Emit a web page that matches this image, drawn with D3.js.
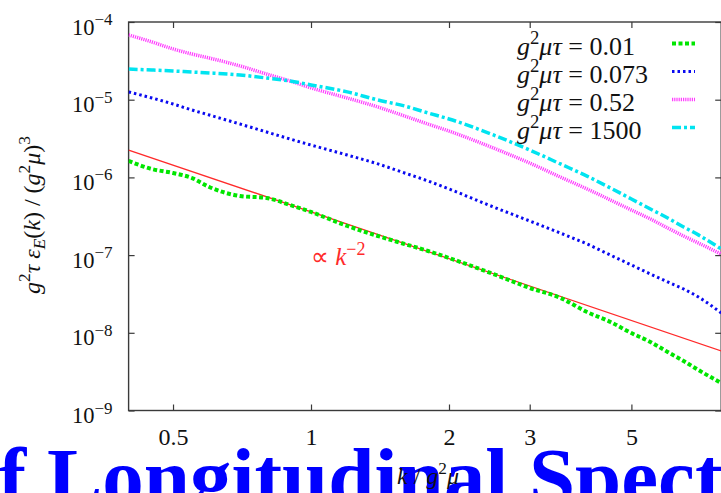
<!DOCTYPE html>
<html>
<head>
<meta charset="utf-8">
<script src="https://cdn.jsdelivr.net/npm/d3@7"></script>
<style>
  body { margin: 0; background: #fff; }
  svg { display: block; }
</style>
</head>
<body>
<div id="viz"></div>
<script>
const width = 721;
const height = 493;
const plot = {left: 128.6, right: 721.2, top: 22, bottom: 410.5};
const serif = 'Liberation Serif';

// k / g^2 mu sample positions
const kValues = [0.4, 0.45, 0.5, 0.55, 0.6, 0.7, 0.8, 0.9, 1.0, 1.2, 1.4, 1.6, 1.8,
  2.0, 2.5, 3.0, 3.5, 4.0, 4.5, 5.0, 5.5, 6.0, 6.5, 7.0, 7.85];

// g^2 tau eps_E(k) / (g^2 mu)^3 for each g^2 mu tau
const spec001 = [1.63e-6, 1.28e-6, 1.14e-6, 9.82e-7, 7.52e-7, 5.77e-7, 5.43e-7, 4.42e-7, 3.59e-7,
  2.37e-7, 1.76e-7, 1.39e-7, 1.13e-7, 9.18e-8, 5.71e-8, 3.78e-8, 2.81e-8, 1.85e-8, 1.38e-8,
  9.93e-9, 7.62e-9, 5.66e-9, 4.34e-9, 3.32e-9, 2.26e-9];
const spec0073 = [1.26e-5, 1.05e-5, 8.81e-6, 7.36e-6, 6.35e-6, 4.86e-6, 3.84e-6, 3.12e-6, 2.61e-6,
  1.94e-6, 1.49e-6, 1.14e-6, 8.99e-7, 7.10e-7, 4.16e-7, 2.75e-7, 1.92e-7, 1.39e-7, 1.00e-7,
  7.46e-8, 5.71e-8, 4.51e-8, 3.66e-8, 2.89e-8, 1.80e-8];
const spec052 = [6.81e-5, 5.53e-5, 4.50e-5, 3.87e-5, 3.44e-5, 2.72e-5, 2.14e-5, 1.74e-5, 1.42e-5,
  1.05e-5, 8.05e-6, 6.17e-6, 4.86e-6, 3.95e-6, 2.39e-6, 1.53e-6, 1.01e-6, 7.10e-7, 5.12e-7,
  3.80e-7, 2.92e-7, 2.23e-7, 1.76e-7, 1.43e-7, 1.03e-7];
const spec1500 = [2.48e-5, 2.41e-5, 2.34e-5, 2.27e-5, 2.21e-5, 2.08e-5, 1.90e-5, 1.74e-5, 1.55e-5,
  1.26e-5, 9.91e-6, 8.30e-6, 6.75e-6, 5.65e-6, 3.52e-6, 2.25e-6, 1.49e-6, 1.04e-6, 7.31e-7,
  5.27e-7, 3.92e-7, 3.00e-7, 2.30e-7, 1.82e-7, 1.20e-7];

// k^-2 guide line, two end points
const fitK = [0.4, 7.85];
const fitSpec = [2.25e-6, 5.84e-9];

const seriesLabels = ['0.01', '0.073', '0.52', '1500'];
const xTicks = [0.5, 1, 2, 3, 5];
const yTicks = [1e-9, 1e-8, 1e-7, 1e-6, 1e-5, 1e-4];

const styles = [
  {color: '#00e600', widthPx: 4, dash: '4,2.5'},
  {color: '#0a0af0', widthPx: 3, dash: '2.5,3'},
  {color: '#ff3cff', widthPx: 3.5, dash: '1.2,1'},
  {color: '#00e4f0', widthPx: 3.5, dash: '9,3,3,3'}
];
const allSeries = [spec001, spec0073, spec052, spec1500];

const chart = d3.select('#viz')
  .append('svg')
  .attr('width', width)
  .attr('height', height)
  .attr('viewBox', [0, 0, width, height])
  .attr('font-family', serif);

chart.append('rect').attr('width', width).attr('height', height).attr('fill', '#fff');

const xScale = d3.scaleLog().domain([0.4, 7.85]).range([plot.left, plot.right]);
const yScale = d3.scaleLog().domain([1e-9, 1e-4]).range([plot.bottom, plot.top]);

// writes text with italic / super / subscript pieces
const richText = (sel, parts, size) => {
  let shift = 0;
  sel.attr('font-family', serif);
  parts.forEach(p => {
    const fs = p.s ? size * 0.72 : size;
    const target = p.s === 'sup' ? -0.42 * size : p.s === 'sub' ? 0.22 * size : 0;
    sel.append('tspan')
      .attr('dy', target - shift)
      .attr('font-size', fs)
      .attr('font-family', serif)
      .attr('font-style', p.i ? 'italic' : 'normal')
      .text(p.t);
    shift = target;
  });
};

chart.append('clipPath').attr('id', 'clip')
  .append('rect')
  .attr('x', plot.left).attr('y', plot.top)
  .attr('width', plot.right - plot.left).attr('height', plot.bottom - plot.top);

// axes, ticks pointing inward on all four sides
const axisColor = '#3a3a3a';
const styleAxis = g => {
  g.select('.domain').remove();
  g.selectAll('.tick line').attr('stroke', axisColor).attr('stroke-width', 1.2);
  g.attr('font-family', serif).attr('font-size', null);
};

const yAxis = chart.append('g')
  .attr('transform', `translate(${plot.left},0)`)
  .call(d3.axisLeft(yScale).tickValues(yTicks).tickSize(-6).tickPadding(16))
  .call(styleAxis);
yAxis.selectAll('.tick text').each(function(d) {
  const t = d3.select(this).text(null).attr('dy', null).attr('y', 12).attr('fill', '#111');
  const expo = String(Math.round(Math.log10(d))).replace('-', '\u2212');
  richText(t, [{t: '10'}, {t: expo, s: 'sup'}], 22.5);
  t.selectAll('tspan').filter((_, i) => i === 1).attr('font-size', 17);
});

const xAxis = chart.append('g')
  .attr('transform', `translate(0,${plot.bottom})`)
  .call(d3.axisBottom(xScale).tickValues(xTicks).tickSize(-6).tickFormat(d3.format('')))
  .call(styleAxis);
xAxis.selectAll('.tick text')
  .attr('y', 34.5).attr('dy', null)
  .attr('font-family', serif)
  .attr('font-size', 24).attr('fill', '#111');

chart.append('g')
  .attr('transform', `translate(0,${plot.top})`)
  .call(d3.axisTop(xScale).tickValues(xTicks).tickSize(-6).tickFormat(''))
  .call(styleAxis);
chart.append('g')
  .attr('transform', `translate(${plot.right},0)`)
  .call(d3.axisRight(yScale).tickValues(yTicks).tickSize(-6).tickFormat(''))
  .call(styleAxis);

chart.append('rect')
  .attr('x', plot.left).attr('y', plot.top)
  .attr('width', plot.right - plot.left).attr('height', plot.bottom - plot.top)
  .attr('fill', 'none').attr('stroke', axisColor).attr('stroke-width', 1.4);

// curves
const line = d3.line()
  .x(d => xScale(d[0]))
  .y(d => yScale(d[1]))
  .curve(d3.curveMonotoneX);

const curves = chart.append('g').attr('clip-path', 'url(#clip)');

curves.append('path')
  .attr('d', line(d3.zip(fitK, fitSpec)))
  .attr('fill', 'none')
  .attr('stroke', '#ff2a2a')
  .attr('stroke-width', 1.3);

allSeries.forEach((s, i) => {
  curves.append('path')
    .attr('d', line(d3.zip(kValues, s)))
    .attr('fill', 'none')
    .attr('stroke', styles[i].color)
    .attr('stroke-width', styles[i].widthPx)
    .attr('stroke-dasharray', styles[i].dash);
});

// k^-2 annotation
const note = chart.append('text')
  .attr('x', 311).attr('y', 265)
  .attr('fill', '#ff2a2a');
richText(note, [{t: '\u221D '}, {t: 'k', i: true}, {t: '\u22122', s: 'sup'}], 25);

// legend
const legend = chart.append('g');
seriesLabels.forEach((lab, i) => {
  const base = 55 + i * 28;
  const t = legend.append('text').attr('x', 517).attr('y', base).attr('fill', '#111');
  richText(t, [{t: 'g', i: true}, {t: '2', s: 'sup'}, {t: '\u03BC\u03C4', i: true}, {t: ' = ' + lab}], 26);
  legend.append('line')
    .attr('x1', 672).attr('x2', 695)
    .attr('y1', base - 11.5).attr('y2', base - 11.5)
    .attr('stroke', styles[i].color)
    .attr('stroke-width', styles[i].widthPx)
    .attr('stroke-dasharray', styles[i].dash);
});

// y axis title
const yTitle = chart.append('text')
  .attr('transform', 'translate(40,215) rotate(-90)')
  .attr('text-anchor', 'middle')
  .attr('fill', '#111');
richText(yTitle, [
  {t: 'g', i: true}, {t: '2', s: 'sup'}, {t: '\u03C4 \u03B5', i: true}, {t: 'E', i: true, s: 'sub'},
  {t: '('}, {t: 'k', i: true}, {t: ') / ('}, {t: 'g', i: true}, {t: '2', s: 'sup'},
  {t: '\u03BC', i: true}, {t: ')'}, {t: '3', s: 'sup'}
], 24);

// slide title text running across the bottom
chart.append('text')
  .attr('x', -43).attr('y', 505)
  .attr('font-family', serif)
  .attr('font-size', 83)
  .attr('font-weight', 'bold')
  .attr('fill', '#0000ff')
  .text('of Longitudinal Spectra');

// x axis title
const xTitle = chart.append('text')
  .attr('x', 428).attr('y', 484)
  .attr('text-anchor', 'middle')
  .attr('fill', '#111');
richText(xTitle, [{t: 'k', i: true}, {t: ' / '}, {t: 'g', i: true}, {t: '2', s: 'sup'}, {t: '\u03BC', i: true}], 24);
</script>
</body>
</html>
